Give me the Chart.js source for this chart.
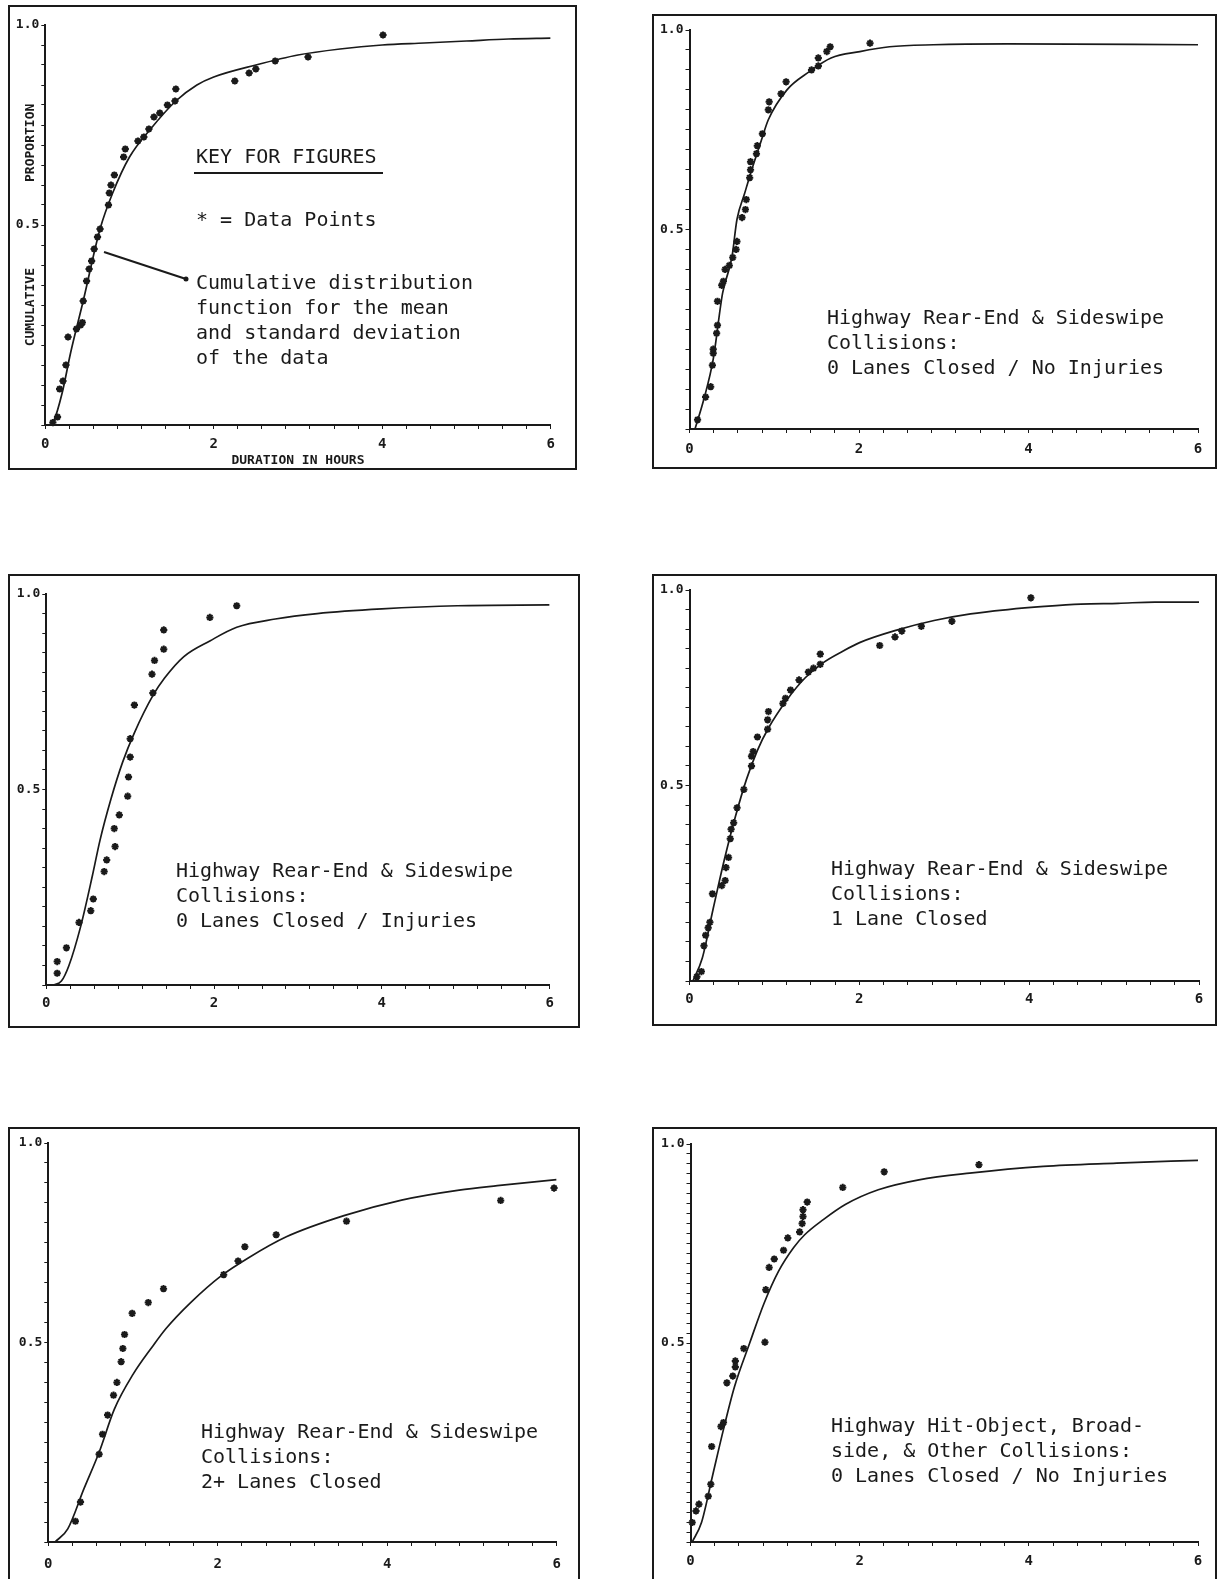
<!DOCTYPE html>
<html>
<head>
<meta charset="utf-8">
<script src="https://cdn.jsdelivr.net/npm/chart.js@4.4.1/dist/chart.umd.min.js"></script>
<style>
  html, body { margin: 0; padding: 0; background: #fff; }
  body { width: 1217px; height: 1579px; position: relative; overflow: hidden; }
  .panel { position: absolute; border: 2px solid #1a1a1a; box-sizing: border-box; }
  canvas { position: absolute; }
</style>
</head>
<body>
<script>
// tick labels shared by all six figures
const xTickLabels = ['0', '2', '4', '6'];
const yTickLabels = ['0.5', '1.0'];

// figure 1 - key
const p1PointX = [0.09, 0.145, 0.17, 0.21, 0.245, 0.27, 0.37, 0.42, 0.44, 0.45, 0.49, 0.52, 0.55, 0.58, 0.62, 0.65, 0.75, 0.76, 0.78, 0.82, 0.93, 0.95, 1.10, 1.17, 1.23, 1.29, 1.36, 1.45, 1.54, 1.55, 2.25, 2.42, 2.50, 2.73, 3.12, 4.01];
const p1PointY = [0.006, 0.02, 0.09, 0.11, 0.15, 0.22, 0.24, 0.25, 0.256, 0.31, 0.36, 0.39, 0.41, 0.44, 0.47, 0.49, 0.55, 0.58, 0.60, 0.625, 0.67, 0.69, 0.71, 0.72, 0.74, 0.77, 0.78, 0.80, 0.81, 0.84, 0.86, 0.88, 0.89, 0.91, 0.92, 0.975];
const p1CurveX = [0.05, 0.1, 0.2, 0.3, 0.45, 0.65, 0.8, 1.0, 1.25, 1.55, 1.8, 2.0, 2.5, 3.0, 3.5, 4.0, 4.5, 5.0, 5.5, 6.0];
const p1CurveY = [0, 0.01, 0.08, 0.18, 0.31, 0.49, 0.58, 0.67, 0.74, 0.81, 0.85, 0.87, 0.9, 0.925, 0.94, 0.95, 0.955, 0.96, 0.965, 0.967];

// figure 2 - 0 lanes closed / no injuries
const p2PointX = [0.095, 0.19, 0.25, 0.27, 0.28, 0.28, 0.32, 0.33, 0.33, 0.38, 0.40, 0.42, 0.47, 0.51, 0.55, 0.56, 0.62, 0.66, 0.67, 0.71, 0.72, 0.72, 0.79, 0.80, 0.86, 0.93, 0.94, 1.08, 1.14, 1.44, 1.52, 1.52, 1.62, 1.66, 2.13];
const p2PointY = [0.023, 0.08, 0.106, 0.16, 0.19, 0.20, 0.24, 0.26, 0.32, 0.36, 0.37, 0.40, 0.41, 0.43, 0.45, 0.47, 0.53, 0.55, 0.575, 0.63, 0.65, 0.67, 0.69, 0.71, 0.74, 0.80, 0.82, 0.84, 0.87, 0.90, 0.91, 0.93, 0.946, 0.958, 0.967];
const p2CurveX = [0.065, 0.17, 0.28, 0.39, 0.5, 0.56, 0.65, 0.72, 0.85, 0.93, 1.15, 1.41, 1.67, 2.01, 2.36, 2.88, 3.75, 6];
const p2CurveY = [0, 0.075, 0.175, 0.34, 0.43, 0.525, 0.59, 0.64, 0.725, 0.775, 0.85, 0.895, 0.93, 0.946, 0.958, 0.963, 0.965, 0.963];

// figure 3 - 0 lanes closed / injuries
const p3PointX = [0.13, 0.13, 0.24, 0.39, 0.53, 0.56, 0.69, 0.72, 0.81, 0.82, 0.87, 0.97, 0.98, 1.0, 1.0, 1.05, 1.26, 1.27, 1.29, 1.4, 1.4, 1.95, 2.27];
const p3PointY = [0.06, 0.03, 0.095, 0.16, 0.19, 0.22, 0.29, 0.32, 0.40, 0.354, 0.435, 0.483, 0.532, 0.583, 0.63, 0.716, 0.795, 0.747, 0.83, 0.859, 0.908, 0.94, 0.97];
const p3CurveX = [0.09, 0.18, 0.27, 0.41, 0.55, 0.64, 0.77, 0.91, 1.05, 1.27, 1.41, 1.64, 1.95, 2.27, 2.73, 3.23, 4.0, 4.9, 6];
const p3CurveY = [0, 0.01, 0.05, 0.15, 0.28, 0.37, 0.475, 0.57, 0.645, 0.74, 0.785, 0.84, 0.88, 0.915, 0.936, 0.95, 0.962, 0.97, 0.972];

// figure 4 - 1 lane closed
const p4PointX = [0.087, 0.14, 0.17, 0.19, 0.22, 0.24, 0.27, 0.38, 0.42, 0.43, 0.46, 0.48, 0.49, 0.52, 0.56, 0.64, 0.73, 0.73, 0.75, 0.80, 0.92, 0.92, 0.93, 1.10, 1.13, 1.19, 1.29, 1.40, 1.46, 1.54, 1.54, 2.24, 2.42, 2.50, 2.73, 3.09, 4.02];
const p4PointY = [0.011, 0.024, 0.09, 0.117, 0.136, 0.15, 0.223, 0.244, 0.257, 0.29, 0.316, 0.364, 0.388, 0.405, 0.443, 0.49, 0.55, 0.575, 0.587, 0.624, 0.644, 0.668, 0.689, 0.71, 0.723, 0.744, 0.77, 0.79, 0.80, 0.81, 0.836, 0.858, 0.88, 0.895, 0.907, 0.92, 0.98];
const p4CurveX = [0.04, 0.15, 0.28, 0.41, 0.54, 0.67, 0.80, 0.93, 1.15, 1.36, 1.58, 1.8, 2.01, 2.45, 2.88, 3.31, 3.75, 4.18, 4.61, 5.05, 5.48, 6];
const p4CurveY = [0, 0.058, 0.186, 0.31, 0.42, 0.515, 0.59, 0.647, 0.72, 0.775, 0.815, 0.843, 0.866, 0.898, 0.922, 0.939, 0.95, 0.958, 0.964, 0.966, 0.969, 0.969];

// figure 5 - 2+ lanes closed
const p5PointX = [0.32, 0.38, 0.60, 0.64, 0.70, 0.77, 0.81, 0.86, 0.88, 0.90, 0.99, 1.18, 1.36, 2.07, 2.24, 2.32, 2.69, 3.52, 5.34, 5.97];
const p5PointY = [0.052, 0.10, 0.22, 0.27, 0.318, 0.368, 0.40, 0.452, 0.485, 0.52, 0.573, 0.60, 0.635, 0.67, 0.704, 0.74, 0.77, 0.804, 0.856, 0.887];
const p5CurveX = [0.08, 0.23, 0.42, 0.60, 0.78, 1.0, 1.23, 1.39, 1.68, 2.04, 2.36, 2.81, 3.49, 4.17, 4.85, 5.30, 6];
const p5CurveY = [0, 0.033, 0.133, 0.225, 0.333, 0.42, 0.49, 0.535, 0.6, 0.667, 0.712, 0.765, 0.818, 0.857, 0.882, 0.893, 0.908];

// figure 6 - hit-object, broadside & other
const p6PointX = [0.02, 0.065, 0.10, 0.21, 0.24, 0.25, 0.36, 0.39, 0.43, 0.50, 0.53, 0.53, 0.63, 0.88, 0.89, 0.93, 0.99, 1.10, 1.15, 1.29, 1.32, 1.33, 1.33, 1.38, 1.80, 2.29, 3.41];
const p6PointY = [0.049, 0.078, 0.095, 0.115, 0.145, 0.24, 0.29, 0.30, 0.40, 0.417, 0.44, 0.455, 0.486, 0.502, 0.634, 0.69, 0.711, 0.733, 0.764, 0.779, 0.80, 0.818, 0.835, 0.854, 0.891, 0.93, 0.948];
const p6CurveX = [0.02, 0.13, 0.26, 0.39, 0.52, 0.70, 0.87, 1.04, 1.22, 1.35, 1.57, 1.83, 2.22, 2.70, 3.30, 4.17, 5.04, 6];
const p6CurveY = [0, 0.049, 0.166, 0.283, 0.39, 0.50, 0.60, 0.68, 0.74, 0.772, 0.81, 0.848, 0.885, 0.91, 0.927, 0.944, 0.952, 0.959];

const ink = '#1a1a1a';
const mono = '"DejaVu Sans Mono", monospace';

const panels = [
  { px: p1PointX, py: p1PointY, cx: p1CurveX, cy: p1CurveY,
    box: [8, 5, 569, 465], area: [45.3, 550.6, 25, 425], yStep: 0.05, labelPad: 7, key: true,
    notes: [] },
  { px: p2PointX, py: p2PointY, cx: p2CurveX, cy: p2CurveY,
    box: [652, 14, 565, 455], area: [689.5, 1198, 30, 429], yStep: 0.05, labelPad: 8,
    notes: [[827, 319, ['Highway Rear-End & Sideswipe', 'Collisions:', '0 Lanes Closed / No Injuries']]] },
  { px: p3PointX, py: p3PointY, cx: p3CurveX, cy: p3CurveY,
    box: [8, 574, 572, 454], area: [46.3, 549.6, 594, 985], yStep: 0.05, labelPad: 6,
    notes: [[176, 872, ['Highway Rear-End & Sideswipe', 'Collisions:', '0 Lanes Closed / Injuries']]] },
  { px: p4PointX, py: p4PointY, cx: p4CurveX, cy: p4CurveY,
    box: [652, 574, 565, 452], area: [689.5, 1199, 590, 981], yStep: 0.05, labelPad: 6,
    notes: [[831, 870, ['Highway Rear-End & Sideswipe', 'Collisions:', '1 Lane Closed']]] },
  { px: p5PointX, py: p5PointY, cx: p5CurveX, cy: p5CurveY,
    box: [8, 1127, 572, 462], area: [48.3, 556.6, 1143, 1542], yStep: 0.05, labelPad: 10,
    notes: [[201, 1433, ['Highway Rear-End & Sideswipe', 'Collisions:', '2+ Lanes Closed']]] },
  { px: p6PointX, py: p6PointY, cx: p6CurveX, cy: p6CurveY,
    box: [652, 1127, 565, 462], area: [690.5, 1198, 1144, 1542], yStep: 0.025, labelPad: 7,
    notes: [[831, 1427, ['Highway Hit-Object, Broad-', 'side, & Other Collisions:', '0 Lanes Closed / No Injuries']]] }
];

// minor tick positions: 7 divisions per 2 hours along x
const xTickValues = [];
for (let i = 0; i <= 21; i++) xTickValues.push(i * 2 / 7);

function labelFor(labels, value) {
  const hit = labels.find((l) => Math.abs(parseFloat(l) - value) < 1e-6);
  return hit || '';
}

function makeNotes(p) {
  const [bl, bt] = p.box;
  return {
    id: 'notes',
    afterDatasetsDraw(chart) {
      const ctx = chart.ctx;
      ctx.save();
      ctx.fillStyle = ink;
      ctx.strokeStyle = ink;
      ctx.font = '20px ' + mono;
      ctx.textBaseline = 'middle';
      p.notes.forEach(([x, y, lines]) => {
        lines.forEach((t, i) => ctx.fillText(t, x - bl, y - bt + i * 25));
      });
      if (p.key) {
        ctx.fillText('KEY FOR FIGURES', 196 - bl, 158 - bt);
        ctx.lineWidth = 2;
        ctx.beginPath();
        ctx.moveTo(194 - bl, 173 - bt);
        ctx.lineTo(383 - bl, 173 - bt);
        ctx.stroke();
        ctx.fillText('* = Data Points', 196 - bl, 221 - bt);
        // pointer from the curve to its description
        ctx.beginPath();
        ctx.moveTo(104 - bl, 252 - bt);
        ctx.lineTo(186 - bl, 279 - bt);
        ctx.stroke();
        ctx.beginPath();
        ctx.arc(186 - bl, 279 - bt, 2.5, 0, Math.PI * 2);
        ctx.fill();
        const desc = ['Cumulative distribution', 'function for the mean', 'and standard deviation', 'of the data'];
        desc.forEach((t, i) => ctx.fillText(t, 196 - bl, 284 - bt + i * 25));
      }
      ctx.restore();
    }
  };
}

panels.forEach((p) => {
  const [bl, bt, bw, bh] = p.box;
  const [x0, x6, y1, y0] = p.area;

  const frame = document.createElement('div');
  frame.className = 'panel';
  Object.assign(frame.style, { left: bl + 'px', top: bt + 'px', width: bw + 'px', height: bh + 'px' });
  document.body.appendChild(frame);

  const canvas = document.createElement('canvas');
  canvas.width = bw;
  canvas.height = bh;
  Object.assign(canvas.style, { left: bl + 'px', top: bt + 'px' });
  document.body.appendChild(canvas);

  const yTickValues = [];
  const nY = Math.round(1 / p.yStep);
  for (let i = 0; i <= nY; i++) yTickValues.push(i / nY);

  const yAxisWidth = x0 - bl;
  const xAxisHeight = bh - (y0 - bt);

  new Chart(canvas.getContext('2d'), {
    type: 'scatter',
    data: {
      datasets: [{
        label: 'data',
        data: p.px.map((x, i) => ({ x: x, y: p.py[i] })),
        pointStyle: 'star',
        radius: 3.6,
        borderWidth: 2,
        borderColor: ink,
        backgroundColor: ink,
        clip: 8
      }, {
        label: 'cdf',
        data: p.cx.map((x, i) => ({ x: x, y: p.cy[i] })),
        showLine: true,
        borderColor: ink,
        borderWidth: 1.7,
        pointRadius: 0,
        cubicInterpolationMode: 'monotone',
        fill: false
      }]
    },
    options: {
      responsive: false,
      animation: false,
      layout: {
        padding: { left: 0, bottom: 0, top: y1 - bt, right: bw - (x6 - bl) }
      },
      plugins: { legend: { display: false }, tooltip: { enabled: false } },
      scales: {
        x: {
          type: 'linear',
          min: 0,
          max: 6,
          afterBuildTicks: (axis) => { axis.ticks = xTickValues.map((v) => ({ value: v })); },
          afterFit: (axis) => { axis.height = xAxisHeight; },
          ticks: {
            autoSkip: false,
            maxRotation: 0,
            padding: p.labelPad,
            color: ink,
            font: { family: mono, size: 14, weight: 'bold' },
            callback: (v) => labelFor(xTickLabels, v)
          },
          grid: { drawOnChartArea: false, drawTicks: true, tickLength: 4, color: ink },
          border: { display: true, color: ink, width: 2 },
          title: {
            display: !!p.key,
            text: 'DURATION IN HOURS',
            color: ink,
            font: { family: mono, size: 13, weight: 'bold' },
            padding: { top: 0, bottom: 2 }
          }
        },
        y: {
          type: 'linear',
          min: 0,
          max: 1,
          afterBuildTicks: (axis) => { axis.ticks = yTickValues.map((v) => ({ value: v })); },
          afterFit: (axis) => { axis.width = yAxisWidth; },
          ticks: {
            autoSkip: false,
            padding: 2,
            color: ink,
            font: { family: mono, size: 13, weight: 'bold' },
            callback: (v) => labelFor(yTickLabels, v)
          },
          grid: { drawOnChartArea: false, drawTicks: true, tickLength: 4, color: ink },
          border: { display: true, color: ink, width: 2 },
          title: {
            display: !!p.key,
            text: 'CUMULATIVE           PROPORTION',
            color: ink,
            font: { family: mono, size: 13, weight: 'bold' },
            padding: { top: 15, bottom: 0 }
          }
        }
      }
    },
    plugins: [makeNotes(p)]
  });
});
</script>
</body>
</html>
